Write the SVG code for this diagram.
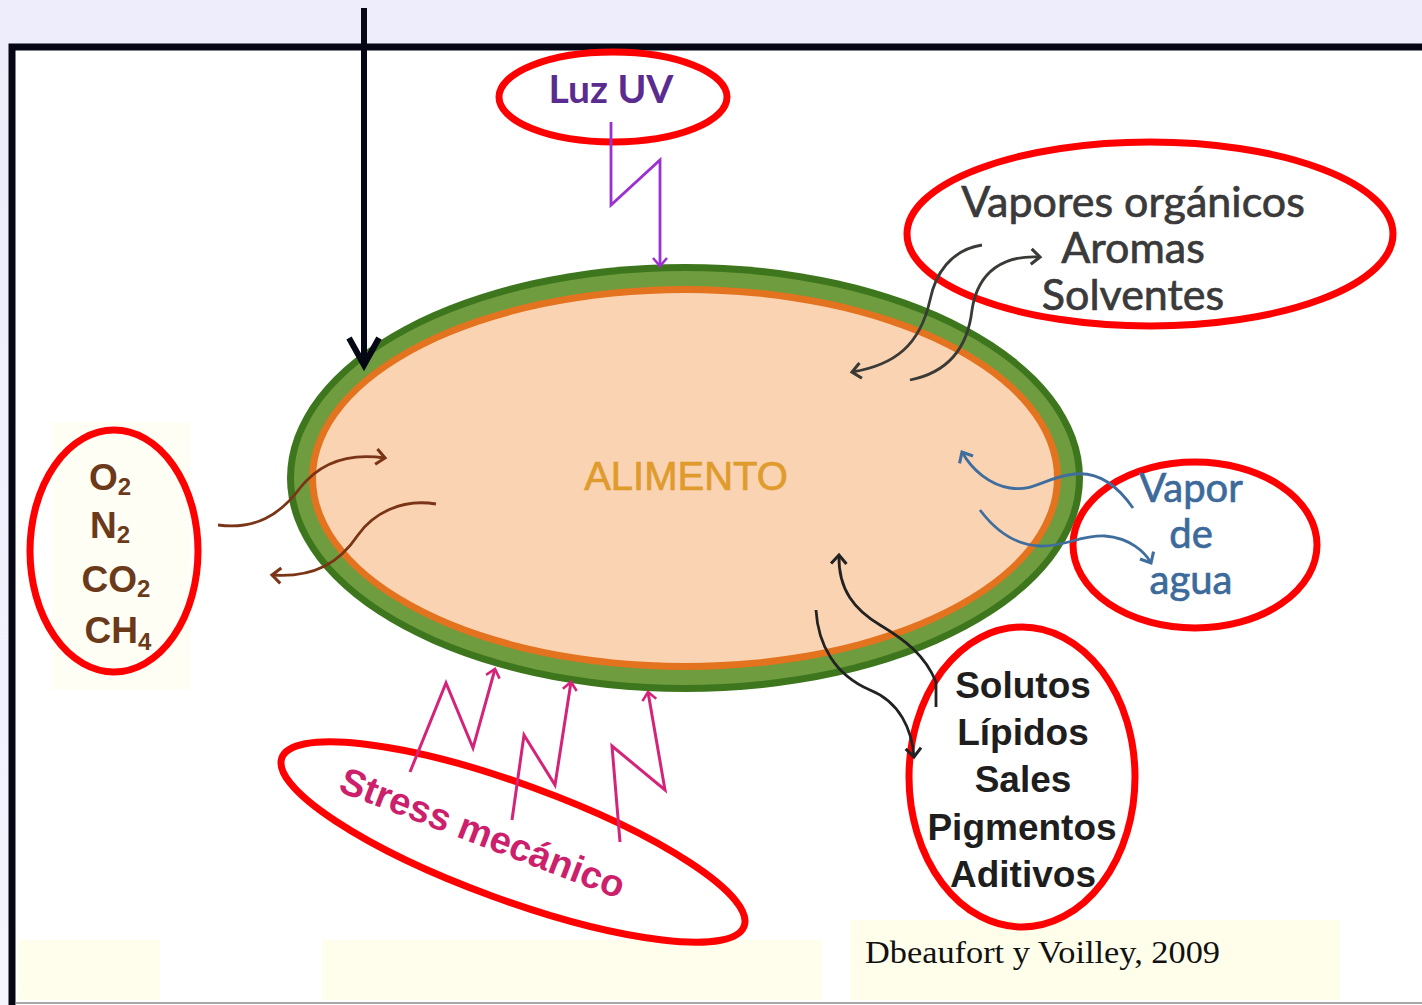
<svg xmlns="http://www.w3.org/2000/svg" width="1422" height="1005" viewBox="0 0 1422 1005">
<defs>
<linearGradient id="bg" x1="0" y1="0" x2="0" y2="1">
<stop offset="0" stop-color="#EDEDFB"/><stop offset="1" stop-color="#F4F4FD"/>
</linearGradient>
<marker id="ah-purple" viewBox="0 0 20 20" refX="10" refY="10" markerWidth="20" markerHeight="20" markerUnits="userSpaceOnUse" orient="auto"><path d="M2,3 L10,10 L2,17" fill="none" stroke="#9B30D0" stroke-width="2.5"/></marker>
<marker id="ah-brown" viewBox="0 0 20 20" refX="10" refY="10" markerWidth="22" markerHeight="22" markerUnits="userSpaceOnUse" orient="auto"><path d="M2,3 L10,10 L2,17" fill="none" stroke="#7A3416" stroke-width="2.8"/></marker>
<marker id="ah-gray" viewBox="0 0 20 20" refX="10" refY="10" markerWidth="22" markerHeight="22" markerUnits="userSpaceOnUse" orient="auto"><path d="M2,3 L10,10 L2,17" fill="none" stroke="#3A3A36" stroke-width="2.8"/></marker>
<marker id="ah-blue" viewBox="0 0 20 20" refX="10" refY="10" markerWidth="22" markerHeight="22" markerUnits="userSpaceOnUse" orient="auto"><path d="M2,3 L10,10 L2,17" fill="none" stroke="#3F6E9E" stroke-width="2.8"/></marker>
<marker id="ah-black" viewBox="0 0 20 20" refX="10" refY="10" markerWidth="22" markerHeight="22" markerUnits="userSpaceOnUse" orient="auto"><path d="M2,3 L10,10 L2,17" fill="none" stroke="#222222" stroke-width="2.8"/></marker>
<marker id="ah-pink" viewBox="0 0 20 20" refX="10" refY="10" markerWidth="20" markerHeight="20" markerUnits="userSpaceOnUse" orient="auto"><path d="M2,3 L10,10 L2,17" fill="none" stroke="#D4247A" stroke-width="2.6"/></marker>
</defs>
<style>
.red{fill:none;stroke:#FF0000;stroke-width:7}
.t{font-family:"Liberation Sans",Arial,sans-serif;text-anchor:middle}
.c{font-family:Lato,"Liberation Sans",sans-serif;text-anchor:middle}
.brown{fill:none;stroke:#7A3416;stroke-width:2.8;marker-end:url(#ah-brown)}
.gray{fill:none;stroke:#3A3A36;stroke-width:2.8;marker-end:url(#ah-gray)}
.blue{fill:none;stroke:#3F6E9E;stroke-width:2.8;marker-end:url(#ah-blue)}
.blk{fill:none;stroke:#222222;stroke-width:2.8;marker-end:url(#ah-black)}
.pink{fill:none;stroke:#D4247A;stroke-width:3;stroke-linejoin:miter;marker-end:url(#ah-pink)}
</style>
<rect x="0" y="0" width="1422" height="1005" fill="url(#bg)"/>
<rect x="12" y="47" width="1416" height="962" fill="#FFFFFF" stroke="#050814" stroke-width="7"/>
<rect x="18" y="940" width="142" height="60" fill="#FFFEEC"/>
<rect x="322" y="940" width="500" height="60" fill="#FFFEEC"/>
<rect x="850" y="920" width="490" height="80" fill="#FFFEEA"/>
<rect x="52" y="422" width="138" height="268" fill="#FFFEF4"/>
<line x1="16" y1="1003" x2="1422" y2="1003" stroke="#A8A8A8" stroke-width="2"/>

<g id="alimento">
<ellipse cx="685" cy="478" rx="398" ry="214" fill="#3D761C"/>
<ellipse cx="685" cy="478" rx="391" ry="207" fill="#6E9C3E"/>
<ellipse cx="685" cy="478" rx="376" ry="192" fill="#E3731F"/>
<ellipse cx="685" cy="478" rx="369" ry="185" fill="#FAD3B2"/>
<text class="t" x="686" y="490" font-size="40" fill="#E09B2D" stroke="#E09B2D" stroke-width="0.7">ALIMENTO</text>
</g>

<g id="luz-uv">
<ellipse class="red" cx="613" cy="97" rx="114" ry="45"/>
<text class="c" x="611" y="103" font-size="39" font-weight="bold" fill="#5B2C8F">Luz UV</text>
</g>

<g id="vapores">
<ellipse class="red" cx="1150" cy="234" rx="243" ry="92"/>
<text class="c" font-size="43" fill="#3A3A3A" stroke="#3A3A3A" stroke-width="0.7"><tspan x="1133" y="217">Vapores orgánicos</tspan><tspan x="1133" y="263">Aromas</tspan><tspan x="1133" y="310">Solventes</tspan></text>
</g>

<g id="vapor-agua">
<ellipse class="red" cx="1195" cy="545" rx="122" ry="83"/>
<text class="c" font-size="40" fill="#3C6A9A" stroke="#3C6A9A" stroke-width="0.7"><tspan x="1191" y="502">Vapor</tspan><tspan x="1191" y="548">de</tspan><tspan x="1191" y="594">agua</tspan></text>
</g>

<g id="solutos">
<ellipse class="red" cx="1022" cy="777" rx="113" ry="150"/>
<text class="t" font-size="37" font-weight="bold" fill="#1E1E1E"><tspan x="1023" y="698">Solutos</tspan><tspan x="1023" y="745">Lípidos</tspan><tspan x="1023" y="792">Sales</tspan><tspan x="1022" y="840">Pigmentos</tspan><tspan x="1023" y="887">Aditivos</tspan></text>
</g>

<g id="gases">
<ellipse class="red" cx="114" cy="551" rx="84" ry="121"/>
<text class="t" font-size="37" font-weight="bold" fill="#6B3A1A"><tspan x="110" y="490">O<tspan font-size="24" dy="5">2</tspan></tspan><tspan x="110" y="538">N<tspan font-size="24" dy="5">2</tspan></tspan><tspan x="116" y="592">CO<tspan font-size="24" dy="5">2</tspan></tspan><tspan x="118" y="643">CH<tspan font-size="24" dy="7">4</tspan></tspan></text>
</g>

<g id="stress">
<ellipse class="red" cx="513" cy="842" rx="246" ry="58" transform="rotate(20 513 842)"/>
<text class="t" font-size="38" font-weight="bold" fill="#CC1F6C" transform="translate(478 845) rotate(21)" x="0" y="0">Stress mecánico</text>
</g>

<g id="fuente">
<text x="865" y="963" font-family="Liberation Serif,serif" font-size="31" fill="#111111" textLength="355" lengthAdjust="spacingAndGlyphs">Dbeaufort y Voilley, 2009</text>
</g>

<g id="connectors">
<line x1="364" y1="8" x2="364" y2="362" stroke="#050814" stroke-width="6"/>
<path d="M349,338 L364,365 L379,338" fill="none" stroke="#050814" stroke-width="6"/>
<path d="M611,122 L611,205 L660,160 L660,266" fill="none" stroke="#9B30D0" stroke-width="2.8" marker-end="url(#ah-purple)"/>
<path class="brown" d="M218,525 C255,530 280,515 300,488 C318,465 345,452 385,458"/>
<path class="brown" d="M436,504 C400,498 372,515 358,535 C340,562 315,578 272,575"/>
<path class="gray" d="M982,245 C950,250 935,275 930,300 C920,345 895,365 852,372"/>
<path class="gray" d="M910,380 C950,372 968,345 972,310 C978,270 1005,255 1040,257"/>
<path class="blue" d="M1133,508 C1115,482 1095,472 1075,474 C1045,477 1035,492 1010,488 C990,485 972,470 962,452"/>
<path class="blue" d="M980,510 C995,530 1015,545 1040,546 C1065,547 1080,535 1105,536 C1130,538 1145,552 1151,563"/>
<path class="blk" d="M936,707 L936,682 C925,655 905,640 880,625 C855,610 838,590 839,555"/>
<path class="blk" d="M816,610 C818,645 835,675 870,690 C900,702 912,730 914,757"/>
<path class="pink" d="M410,772 L446,683 L473,748 L495,669"/>
<path class="pink" d="M512,820 L524,735 L555,785 L571,682"/>
<path class="pink" d="M620,842 L612,746 L665,790 L648,692"/>
</g>
</svg>
